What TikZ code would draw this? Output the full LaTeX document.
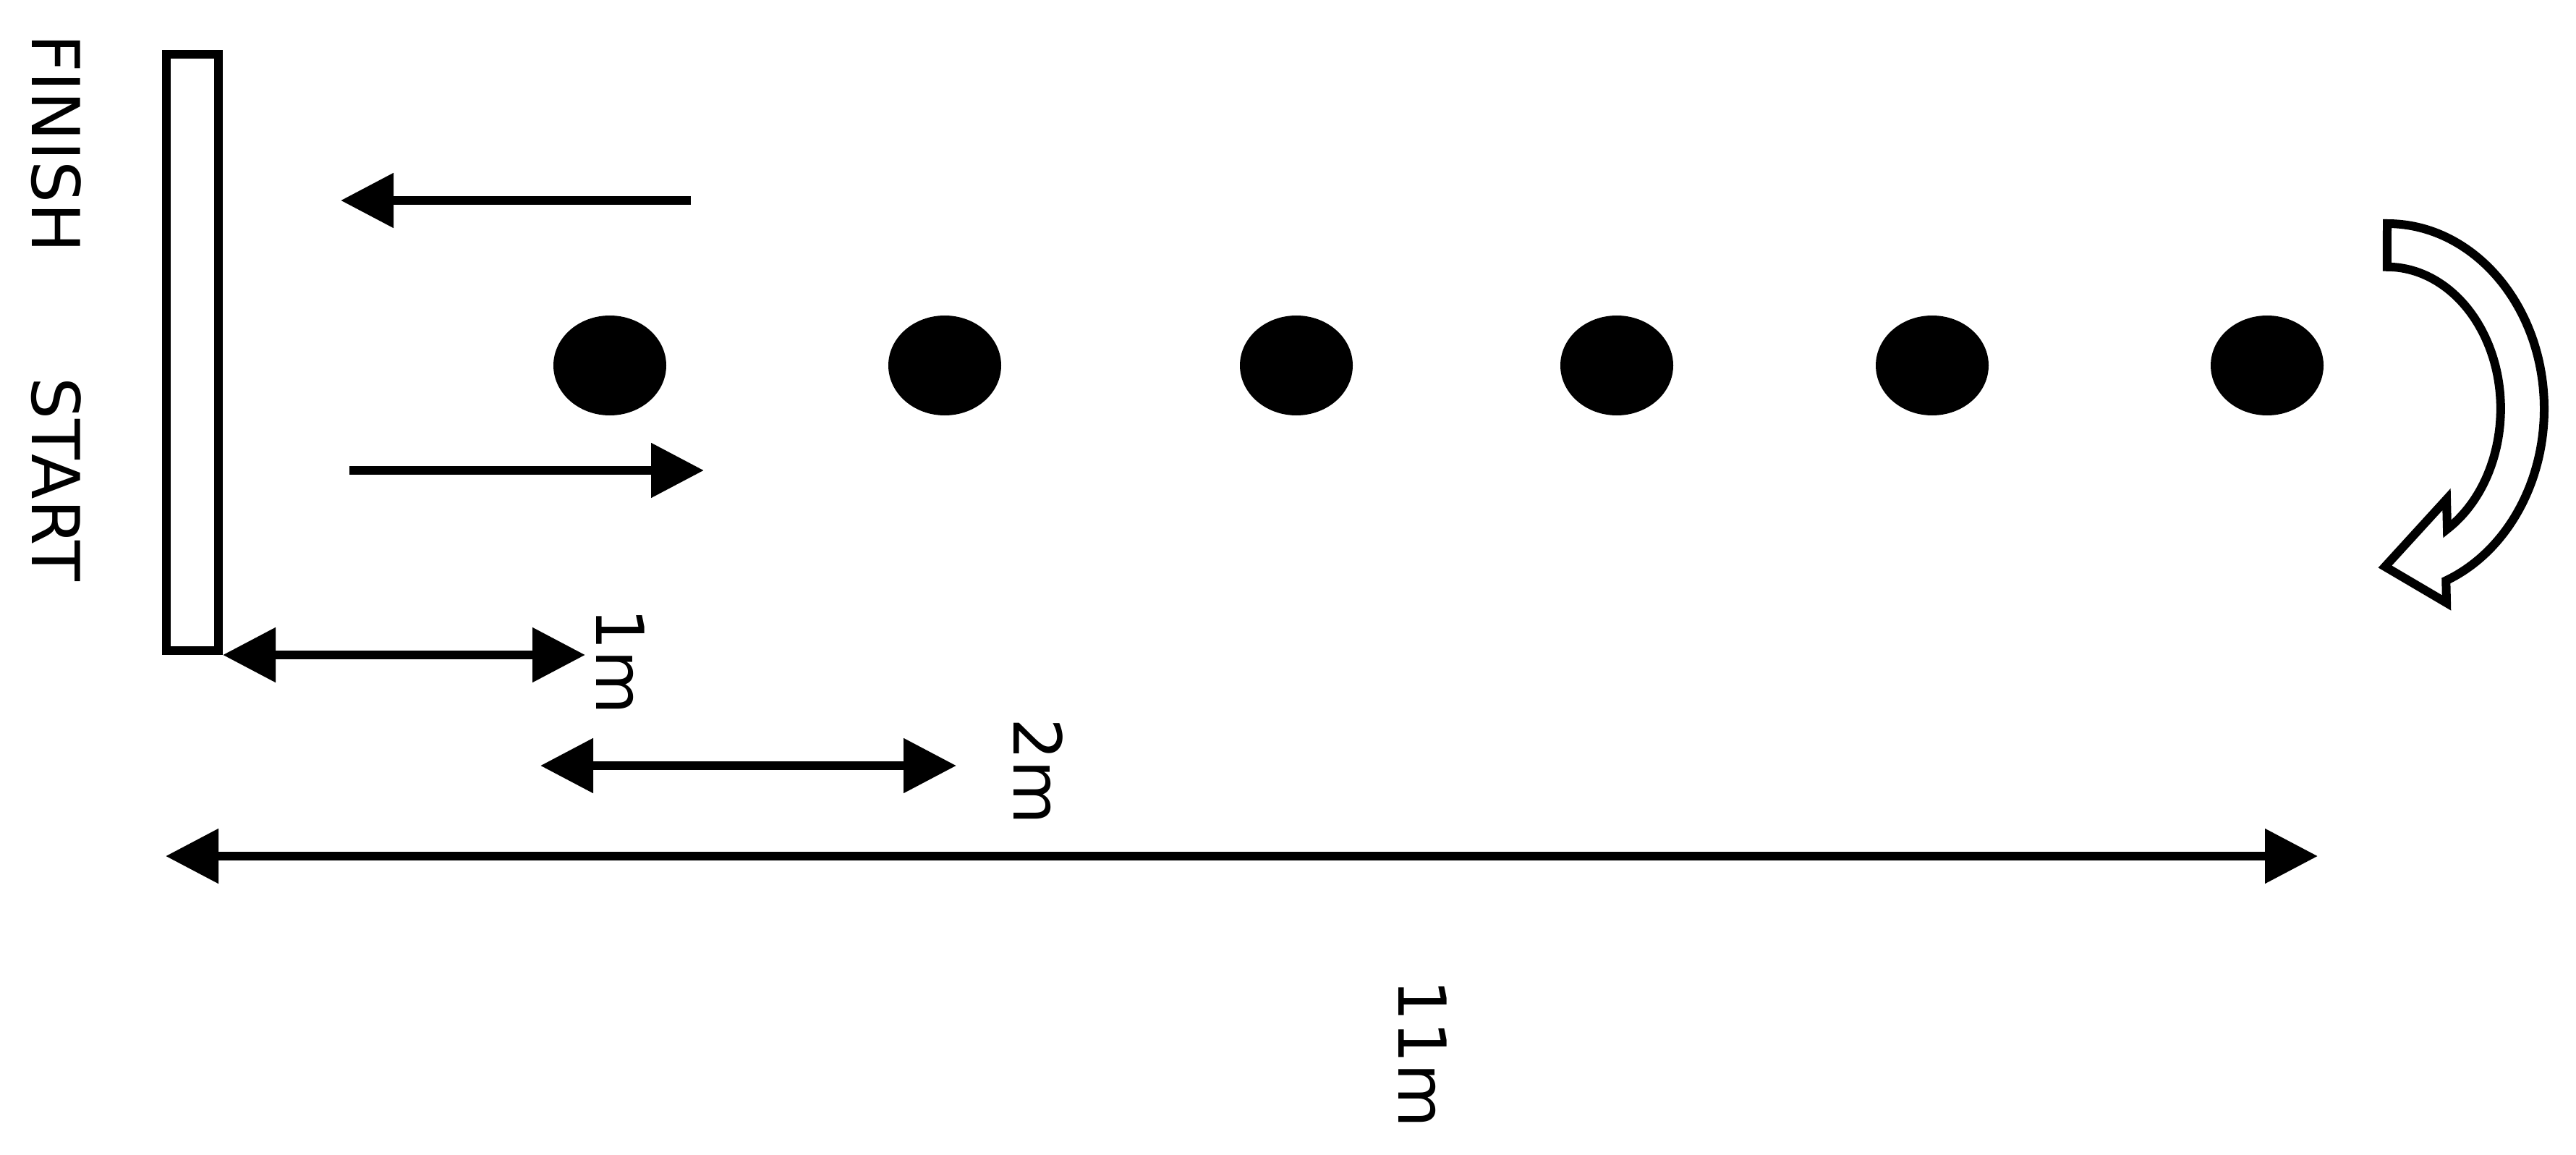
\documentclass[tikz,border=0pt]{standalone}
\usepackage{fontspec}
\setmainfont{DejaVu Sans}
\usetikzlibrary{shapes.geometric, arrows.meta, positioning}

\begin{document}
\begin{tikzpicture}[
    lbl/.style={rotate=-90, font=\fontsize{26}{31}\selectfont, inner sep=0pt},
    cone/.style={ellipse, fill=black, minimum width=1.56cm, minimum height=1.38cm, inner sep=0pt},
    runarrow/.style={-{Triangle[length=7.3mm, width=7.3mm]}, line width=1.2mm},
    dimarrow/.style={{Triangle[length=7.3mm, width=7.3mm]}-{Triangle[length=7.3mm, width=7.3mm]}, line width=1.2mm},
]
\useasboundingbox (0,0) rectangle (35.61,15.95);

% Start/finish line
\node[draw, line width=1.2mm, minimum width=0.72cm, minimum height=8.24cm, inner sep=0pt] (bar) at (2.66, 11.08) {};
\node[lbl] (finish) at (0.78, 13.97) {FINISH};
\node[lbl] (start) at (0.78, 9.33) {START};

% Cones
\node[cone] (c1) at (8.43, 10.90) {};
\node[cone] (c2) at (13.06, 10.90) {};
\node[cone] (c3) at (17.92, 10.90) {};
\node[cone] (c4) at (22.35, 10.90) {};
\node[cone] (c5) at (26.71, 10.90) {};
\node[cone] (c6) at (31.34, 10.90) {};

% Running direction
\coordinate (backfrom) at (9.55, 13.18);
\coordinate (backto) at (4.71, 13.18);
\coordinate (outfrom) at (4.83, 9.45);
\coordinate (outto) at (9.73, 9.45);
\draw[runarrow] (backfrom) -- (backto);
\draw[runarrow] (outfrom) -- (outto);

% Turn at the last cone
\draw[line width=1.2mm, fill=white] (33.00, 12.86) arc[start angle=90, end angle=-68, x radius=2.17, y radius=2.56]
    -- (33.82, 7.62) -- (32.97, 8.12) -- (33.82, 9.05) -- (33.83, 8.64)
    arc[start angle=-58, end angle=90, x radius=1.57, y radius=1.96] -- cycle;

% Distances
\coordinate (oneend) at ([xshift=5.01cm]bar.south east);
\coordinate (twostart) at (7.47, 5.37);
\coordinate (twoend) at (13.22, 5.37);
\coordinate (allstart) at (2.29, 4.12);
\coordinate (allend) at (32.04, 4.12);
\draw[dimarrow] (bar.south east) -- (oneend);
\draw[dimarrow] (twostart) -- (twoend);
\draw[dimarrow] (allstart) -- (allend);

\node[lbl] (onem) at (8.58, 6.81) {1m};
\node[lbl] (twom) at (14.35, 5.29) {2m};
\node[lbl] (elevenm) at (19.67, 1.39) {11m};

\end{tikzpicture}
\end{document}
